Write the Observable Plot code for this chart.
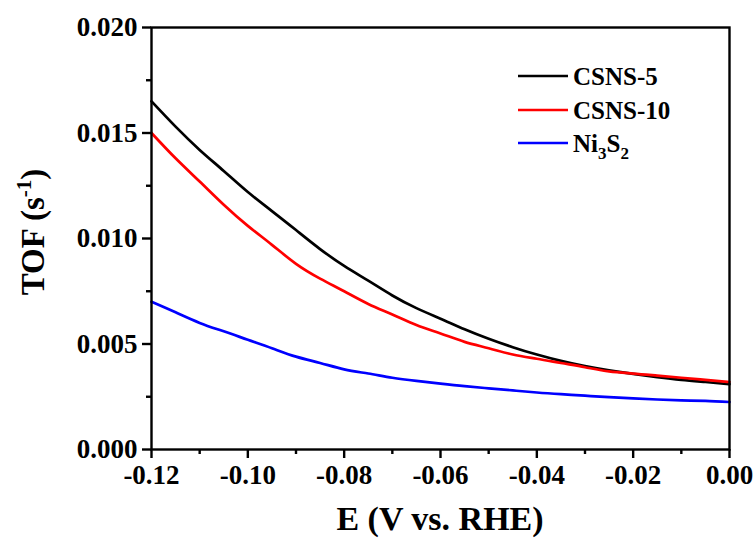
<!DOCTYPE html>
<html>
<head>
<meta charset="utf-8">
<script src="https://cdn.jsdelivr.net/npm/d3@7"></script>
<script src="https://cdn.jsdelivr.net/npm/@observablehq/plot@0.6"></script>
<style>
  html, body { margin: 0; padding: 0; background: #fff; }
  #chart svg { font-family: "Liberation Serif", "Times New Roman", serif; }
</style>
</head>
<body>
<div id="chart"></div>
<script>
const potentials = [-0.120, -0.115, -0.110, -0.105, -0.100, -0.095, -0.090, -0.085, -0.080, -0.075,
  -0.070, -0.065, -0.060, -0.055, -0.050, -0.045, -0.040, -0.035, -0.030, -0.025,
  -0.020, -0.015, -0.010, -0.005, 0.000];
const csns5 = [0.0165, 0.0153, 0.0142, 0.0132, 0.0122, 0.0113, 0.0104, 0.0095, 0.0087, 0.0080,
  0.0073, 0.0067, 0.0062, 0.0057, 0.00525, 0.00485, 0.0045, 0.0042, 0.00395, 0.00375,
  0.00358, 0.00343, 0.0033, 0.0032, 0.0031];
const csns10 = [0.0150, 0.0138, 0.0127, 0.0116, 0.0106, 0.0097, 0.0088, 0.0081, 0.0075, 0.0069,
  0.0064, 0.0059, 0.0055, 0.0051, 0.0048, 0.0045, 0.0043, 0.0041, 0.0039, 0.0037,
  0.0036, 0.0035, 0.0034, 0.0033, 0.0032];
const ni3s2 = [0.0070, 0.0065, 0.0060, 0.0056, 0.0052, 0.0048, 0.0044, 0.0041, 0.0038, 0.0036,
  0.0034, 0.00325, 0.00312, 0.0030, 0.0029, 0.0028, 0.0027, 0.00262, 0.00255, 0.00248,
  0.00242, 0.00237, 0.00233, 0.0023, 0.00225];
const seriesNames = ["CSNS-5", "CSNS-10", "Ni3S2"];
const seriesColors = ["#000000", "#ff0000", "#0000ff"];
const xMajorTicks = [-0.12, -0.10, -0.08, -0.06, -0.04, -0.02, 0.00];
const xMinorTicks = [-0.11, -0.09, -0.07, -0.05, -0.03, -0.01];
const yMajorTicks = [0.000, 0.005, 0.010, 0.015, 0.020];
const yMinorTicks = [0.0025, 0.0075, 0.0125, 0.0175];

const allSeries = [csns5, csns10, ni3s2];
const rows = [];
allSeries.forEach((vals, si) => {
  vals.forEach((v, i) => rows.push({E: potentials[i], tof: v, series: seriesNames[si]}));
});

const font = "Liberation Serif, Times New Roman, serif";
const plot = Plot.plot({
  width: 756,
  height: 539,
  marginLeft: 151,
  marginRight: 27,
  marginTop: 27,
  marginBottom: 90,
  style: {fontFamily: font, fontWeight: "bold", fontSize: "27px", color: "#000", background: "#fff"},
  x: {domain: [-0.12, 0], label: null},
  y: {domain: [0, 0.02], label: null},
  color: {domain: seriesNames, range: seriesColors},
  marks: [
    Plot.line(rows, {x: "E", y: "tof", z: "series", stroke: "series", strokeWidth: 2.7, curve: "natural"}),
    Plot.frame({stroke: "#000", strokeWidth: 2.4}),
    Plot.axisX({ticks: xMajorTicks, tickSize: 9, tickPadding: 6, strokeWidth: 2.4,
      tickFormat: d => d.toFixed(2), fontSize: 27, fontWeight: "bold", label: null}),
    Plot.axisX({ticks: xMinorTicks, tickSize: 5, strokeWidth: 2.4, tickFormat: () => "", label: null}),
    Plot.axisY({ticks: yMajorTicks, tickSize: 9, tickPadding: 5, strokeWidth: 2.4,
      tickFormat: d => d.toFixed(3), fontSize: 27, fontWeight: "bold", label: null}),
    Plot.axisY({ticks: yMinorTicks, tickSize: 5, strokeWidth: 2.4, tickFormat: () => "", label: null})
  ]
});
document.getElementById("chart").appendChild(plot);

const svg = d3.select(plot);
// X axis title
svg.append("text")
  .attr("x", 440).attr("y", 530)
  .attr("text-anchor", "middle")
  .attr("font-size", 34).attr("font-weight", "bold").attr("fill", "#000")
  .text("E (V vs. RHE)");
// Y axis title with superscript
const yt = svg.append("text")
  .attr("transform", "translate(44,232) rotate(-90)")
  .attr("text-anchor", "middle")
  .attr("font-size", 33).attr("font-weight", "bold").attr("fill", "#000");
yt.append("tspan").text("TOF (s");
yt.append("tspan").attr("font-size", 21).attr("dy", -13).text("-1");
yt.append("tspan").attr("dy", 13).text(")");

// Legend
const legendY = [76, 110, 143];
seriesNames.forEach((name, i) => {
  const g = svg.append("g");
  g.append("line").attr("x1", 518).attr("x2", 568).attr("y1", legendY[i]).attr("y2", legendY[i])
    .attr("stroke", seriesColors[i]).attr("stroke-width", 2.7);
  const t = g.append("text").attr("x", 573).attr("y", legendY[i] + 9)
    .attr("text-anchor", "start")
    .attr("font-size", 25).attr("font-weight", "bold").attr("fill", "#000");
  if (name === "Ni3S2") {
    t.append("tspan").text("Ni");
    t.append("tspan").attr("font-size", 17).attr("dy", 7).text("3");
    t.append("tspan").attr("dy", -7).text("S");
    t.append("tspan").attr("font-size", 17).attr("dy", 7).text("2");
  } else {
    t.text(name);
  }
});
</script>
</body>
</html>
